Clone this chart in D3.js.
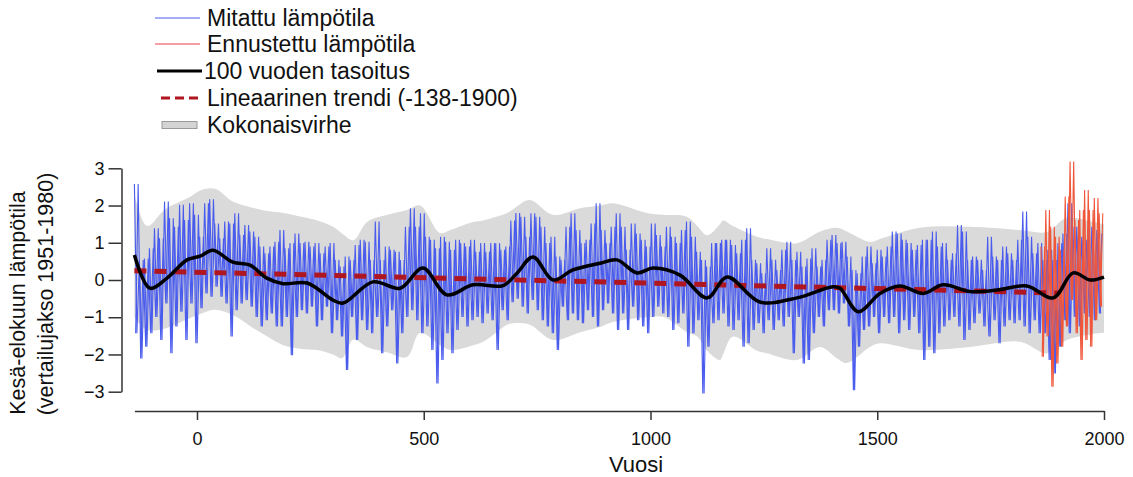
<!DOCTYPE html>
<html>
<head>
<meta charset="utf-8">
<script src="https://cdn.jsdelivr.net/npm/d3@7"></script>
<style>
  body { margin: 0; background: #fff; }
  text { font-family: "Liberation Sans", Arial, sans-serif; fill: #111; }
</style>
</head>
<body>
<svg id="chart"></svg>
<script>
// ---- data ----
// measured series, one high and one low reading per ~11 year bin (-138 .. 1998)
const mitattuStart = -138, mitattuEnd = 1998;
const mitattuHigh = [
  2.58,0.54,0.58,0.85,1.39,1.12,2.11,1.66,1.43,2.02,1.61,2.06,1.75,1.16,2.06,2.17,1.52,1.12,1.57,1.52,1.79,1.21,1.48,1.30,1.16,0.90,0.72,0.90,1.03,1.34,0.85,0.99,1.25,0.99,1.03,0.90,0.99,0.72,
  0.90,0.99,0.54,0.36,0.63,0.54,0.94,1.08,1.03,0.54,1.57,0.54,0.90,0.81,0.76,0.54,1.43,1.93,1.43,1.79,1.16,1.08,0.85,1.16,1.03,0.81,1.08,0.99,0.90,1.08,0.76,0.99,0.76,0.99,0.99,0.81,0.90,1.60,1.80,1.70,
  1.16,1.79,1.70,1.43,0.99,1.16,0.63,0.54,1.43,1.79,1.34,0.99,1.08,1.52,2.06,1.34,0.99,1.43,1.79,1.43,0.81,1.52,1.25,1.08,0.90,1.52,1.21,0.90,1.43,1.16,0.99,1.34,1.57,1.16,0.76,0.54,0.36,0.99,0.99,1.08,
  1.08,0.94,0.72,1.08,1.39,0.54,0.45,0.18,0.85,0.54,0.27,0.81,1.03,0.54,0.76,0.36,0.58,0.85,0.36,0.54,1.08,1.21,0.99,1.03,0.63,0.27,0.18,0.63,0.90,0.45,0.81,0.63,0.90,1.30,1.25,1.08,0.99,0.81,0.94,1.08,
  1.08,1.30,0.90,0.99,0.54,0.72,1.48,1.30,0.54,0.63,0.54,0.27,1.16,0.63,0.54,0.90,0.72,0.54,1.08,1.84,1.16,0.72,0.99,0.54,0.81,0.54,0.99,1.25,2.06,1.43,1.16,1.08,1.43,1.34,1.25
];
const mitattuLow = [
  -1.43,-2.11,-1.79,-1.43,-0.99,-1.61,-0.63,-1.97,-1.25,-0.85,-1.61,-0.63,-1.70,-0.76,-0.36,-0.45,-0.18,-0.45,-0.63,-1.52,-0.81,-0.63,-0.54,-0.72,-0.99,-1.25,-1.08,-0.90,-1.25,-1.25,-0.99,-2.02,-0.99,-0.81,-0.90,-0.72,-1.25,-1.08,
  -0.72,-1.43,-1.08,-1.52,-2.42,-0.99,-1.61,-1.08,-1.34,-1.43,-0.99,-1.97,-1.25,-0.81,-2.24,-1.43,-0.99,-0.81,-1.08,-1.43,-1.25,-1.88,-2.78,-2.15,-1.43,-1.97,-1.34,-0.99,-1.25,-1.08,-0.99,-1.16,-0.90,-1.08,-1.88,-0.81,-1.08,-0.60,-0.50,-0.72,
  -0.90,-0.54,-0.81,-1.08,-1.25,-1.43,-1.88,-0.72,-1.08,-0.90,-1.08,-1.16,-0.81,-0.99,-1.25,-0.81,-0.63,-0.90,-1.34,-0.90,-1.34,-0.72,-1.08,-1.25,-1.43,-0.99,-0.72,-0.90,-0.99,-1.34,-1.16,-0.90,-1.79,-1.43,-1.08,-3.05,-1.79,-1.16,-1.08,-0.90,
  -1.25,-1.34,-1.08,-1.79,-1.70,-1.34,-1.16,-1.43,-1.08,-1.34,-1.08,-1.25,-0.99,-1.97,-0.99,-2.24,-2.15,-1.43,-0.99,-1.25,-0.81,-0.81,-0.90,-0.63,-1.25,-2.96,-1.79,-1.34,-1.25,-0.99,-1.43,-0.99,-1.16,-0.99,-1.43,-1.08,-1.34,-0.99,-1.43,-2.15,
  -1.79,-1.97,-1.43,-1.25,-1.08,-0.99,-1.25,-1.61,-1.34,-1.16,-0.90,-1.25,-1.52,-1.08,-1.70,-1.25,-1.08,-1.16,-1.08,-1.25,-1.43,-1.08,-1.43,-1.43,-2.15,-2.51,-1.79,-1.08,-1.43,-0.99,-1.25,-0.90,-0.99,-1.08,-0.90
];

// forecast series (same binning)
const ennusteStart = 1861, ennusteEnd = 2000;
const ennusteHigh = [0.90,1.88,1.43,1.16,0.81,2.24,3.18,1.61,1.88,2.42,1.88,2.20,1.79];
const ennusteLow  = [-2.06,-1.52,-2.87,-2.24,-1.79,-1.25,-0.54,-1.43,-2.15,-1.61,-1.79,-1.08,-0.72];

// 100-year smoothing
const tasoitusYears = [-138,-104,-66,-22,7,35,79,117,154,190,243,300,322,388,448,498,551,609,675,706,741,785,829,889,926,970,1006,1065,1125,1169,1241,1323,1402,1418,1458,1506,1550,1601,1645,1705,1764,1830,1888,1932,1969,2000];
const tasoitusVals  = [0.67,-0.22,0.05,0.54,0.64,0.80,0.48,0.40,0.05,-0.10,-0.08,-0.54,-0.62,-0.05,-0.22,0.32,-0.40,-0.13,-0.15,0.19,0.62,0.00,0.27,0.45,0.54,0.19,0.32,0.13,-0.48,0.08,-0.59,-0.48,-0.18,-0.22,-0.85,-0.36,-0.16,-0.36,-0.13,-0.31,-0.27,-0.16,-0.48,0.19,0.00,0.08];

// linear trend (-138..1900)
const trendYears = [-138, 1900];
const trendVals  = [0.25, -0.35];

// total error band
const virheYears = [-138,-110,-70,-20,10,40,80,120,155,190,230,265,300,320,345,375,420,463,492,536,560,609,631,684,697,734,785,845,889,917,992,1028,1080,1103,1125,1153,1160,1182,1235,1257,1323,1374,1411,1433,1484,1506,1594,1705,1815,1874,1918,1976,2000];
const virheUpper = [2.3,1.45,1.9,2.2,2.42,2.45,2.1,1.95,1.85,1.8,1.7,1.6,1.43,1.25,1.07,1.56,1.75,1.88,2.0,1.26,1.35,1.56,1.6,1.8,1.9,2.15,1.75,1.93,2.0,2.06,1.8,1.75,1.7,1.45,1.2,1.5,1.6,1.45,1.16,1.1,0.99,1.3,1.4,1.3,1.02,1.1,1.4,1.43,1.34,1.29,1.67,1.56,1.5];
const virheLower = [-1.0,-1.34,-1.3,-1.05,-0.9,-0.8,-0.95,-1.26,-1.52,-1.75,-1.85,-1.88,-2.0,-2.1,-1.6,-1.8,-1.95,-2.07,-1.42,-1.75,-1.88,-1.75,-1.66,-1.2,-1.16,-1.2,-1.61,-1.4,-1.26,-1.13,-1.0,-0.99,-1.4,-1.52,-1.9,-2.15,-2.0,-1.52,-1.9,-1.97,-2.15,-1.8,-2.1,-2.23,-1.8,-1.7,-1.88,-1.8,-1.66,-1.97,-1.61,-1.45,-1.42];

const xTicks = [0, 500, 1000, 1500, 2000];
const yTicks = [-3, -2, -1, 0, 1, 2, 3];

const legendLabels = ["Mitattu lämpötila", "Ennustettu lämpötila", "100 vuoden tasoitus", "Lineaarinen trendi (-138-1900)", "Kokonaisvirhe"];

// ---- drawing ----
const W = 1133, H = 477;
const svg = d3.select("#chart").attr("width", W).attr("height", H);

const x = d3.scaleLinear().domain([-138, 2000]).range([134.4, 1104]);
const y = d3.scaleLinear().domain([-3, 3]).range([391.7, 168.3]);

// error band
const band = virheYears.map((yr, i) => ({yr, hi: virheUpper[i], lo: virheLower[i]}));
svg.append("path")
  .datum(band)
  .attr("fill", "#dadada")
  .attr("d", d3.area().x(d => x(d.yr)).y0(d => y(d.lo)).y1(d => y(d.hi)).curve(d3.curveCatmullRom));

// spiky series: two crossing zigzags between bin highs and lows
function zigzag(start, end, hi, lo, shift) {
  const step = (end - start) / hi.length;
  const pts = [];
  hi.forEach((v, i) => {
    const a = shift ? [lo[i], v] : [v, lo[i]];
    pts.push([start + (i + (shift ? 0.25 : 0)) * step, a[0]]);
    pts.push([start + (i + (shift ? 0.75 : 0.5)) * step, a[1]]);
  });
  return pts;
}
const line = d3.line().x(d => x(d[0])).y(d => y(d[1]));

[false, true].forEach(s => {
  svg.append("path")
    .datum(zigzag(mitattuStart, mitattuEnd, mitattuHigh, mitattuLow, s))
    .attr("fill", "none").attr("stroke", "#4a5ced").attr("stroke-width", 1.1)
    .attr("d", line);
});
[false, true].forEach(s => {
  svg.append("path")
    .datum(zigzag(ennusteStart, ennusteEnd, ennusteHigh, ennusteLow, s))
    .attr("fill", "none").attr("stroke", "#f0563a").attr("stroke-width", 1.1)
    .attr("d", line);
});

// linear trend
svg.append("path")
  .datum(trendYears.map((yr, i) => [yr, trendVals[i]]))
  .attr("fill", "none").attr("stroke", "#b0161f").attr("stroke-width", 5)
  .attr("stroke-dasharray", "12,8")
  .attr("d", line);

// smoothing
svg.append("path")
  .datum(tasoitusYears.map((yr, i) => [yr, tasoitusVals[i]]))
  .attr("fill", "none").attr("stroke", "#000").attr("stroke-width", 3.5)
  .attr("stroke-linejoin", "round")
  .attr("d", d3.line().x(d => x(d[0])).y(d => y(d[1])).curve(d3.curveCatmullRom.alpha(0.5)));

// axes
const yAxis = svg.append("g")
  .attr("transform", "translate(121.5,0)")
  .call(d3.axisLeft(y).tickValues(yTicks).tickSize(13).tickSizeOuter(0).tickFormat(d3.format("d")));
const xAxis = svg.append("g")
  .attr("transform", "translate(0,411)")
  .call(d3.axisBottom(x).tickValues(xTicks).tickSize(9).tickSizeOuter(0).tickFormat(d3.format("d")));
[yAxis, xAxis].forEach(a => {
  a.select(".domain").attr("stroke", "#333").attr("stroke-width", 1.5);
  a.selectAll(".tick line").attr("stroke", "#333").attr("stroke-width", 1.5);
  a.selectAll("text").attr("font-family", "Liberation Sans, Arial, sans-serif").attr("font-size", 18).attr("fill", "#111");
});
yAxis.selectAll("text").attr("x", -17);
xAxis.selectAll("text").attr("y", 21);

svg.append("text")
  .attr("x", 636).attr("y", 472)
  .attr("text-anchor", "middle").attr("font-size", 22)
  .text("Vuosi");

svg.append("text")
  .attr("transform", "translate(17,303) rotate(-90)")
  .attr("text-anchor", "middle").attr("dy", "0.35em").attr("font-size", 21.5)
  .text("Kesä-elokuun lämpötila");
svg.append("text")
  .attr("transform", "translate(45,294) rotate(-90)")
  .attr("text-anchor", "middle").attr("dy", "0.35em").attr("font-size", 21.5)
  .text("(vertailujakso 1951-1980)");

// legend
const legY = [18, 44, 71, 98, 125];
const leg = svg.append("g");
leg.append("line").attr("x1", 155).attr("x2", 200).attr("y1", legY[0]).attr("y2", legY[0]).attr("stroke", "#4a5ced").attr("stroke-width", 1.2);
leg.append("line").attr("x1", 155).attr("x2", 200).attr("y1", legY[1]).attr("y2", legY[1]).attr("stroke", "#e8404a").attr("stroke-width", 1.2);
leg.append("line").attr("x1", 157).attr("x2", 202).attr("y1", legY[2]).attr("y2", legY[2]).attr("stroke", "#000").attr("stroke-width", 3);
leg.append("line").attr("x1", 161).attr("x2", 199).attr("y1", legY[3]).attr("y2", legY[3]).attr("stroke", "#b0161f").attr("stroke-width", 3).attr("stroke-dasharray", "9,5");
leg.append("rect").attr("x", 162).attr("y", legY[4] - 3.5).attr("width", 35).attr("height", 7).attr("fill", "#d4d4d4").attr("stroke", "#9a9a9a").attr("stroke-width", 1);
leg.selectAll("text.lab").data(legendLabels).enter().append("text")
  .attr("class", "lab")
  .attr("x", (d, i) => i === 2 ? 204 : 207)
  .attr("y", (d, i) => legY[i])
  .attr("dy", "0.35em")
  .attr("font-size", 23)
  .text(d => d);
</script>
</body>
</html>
